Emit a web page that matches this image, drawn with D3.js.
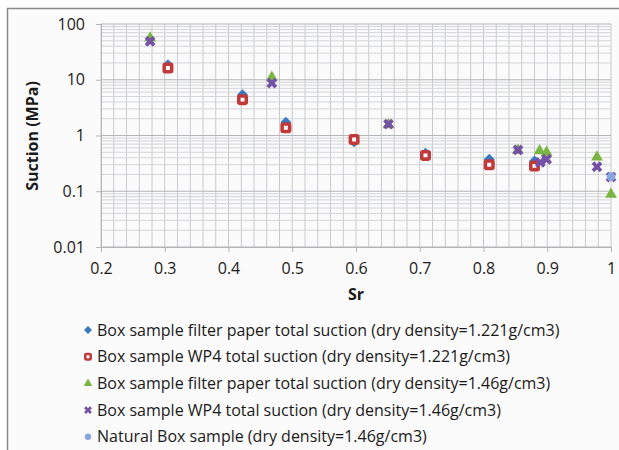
<!DOCTYPE html>
<html>
<head>
<meta charset="utf-8">
<script src="https://cdn.jsdelivr.net/npm/d3@7"></script>
<style>
  body { margin: 0; background: #fff; }
  text { font-family: "Open Sans", sans-serif; fill: #1a1a1a; }
</style>
</head>
<body>
<svg id="chart" width="619" height="450"></svg>
<script>
// Suction vs degree of saturation (Sr)

// Box sample filter paper total suction (dry density=1.221g/cm3)
var fp1221Sr   = [0.305, 0.422, 0.490, 0.597, 0.709, 0.809, 0.880];
var fp1221Suc  = [18.5, 5.4, 1.72, 0.77, 0.48, 0.375, 0.35];
// Box sample WP4 total suction (dry density=1.221g/cm3)
var wp1221Sr   = [0.305, 0.422, 0.490, 0.597, 0.709, 0.809, 0.880];
var wp1221Suc  = [16.3, 4.4, 1.38, 0.85, 0.44, 0.30, 0.285];
// Box sample filter paper total suction (dry density=1.46g/cm3)
var fp146Sr    = [0.277, 0.468, 0.651, 0.854, 0.888, 0.899, 0.978, 1.0];
var fp146Suc   = [56, 11, 1.55, 0.54, 0.53, 0.50, 0.41, 0.088];
// Box sample WP4 total suction (dry density=1.46g/cm3)
var wp146Sr    = [0.277, 0.468, 0.651, 0.854, 0.889, 0.899, 0.978, 1.0];
var wp146Suc   = [49, 8.7, 1.6, 0.55, 0.33, 0.375, 0.275, 0.18];
// Natural Box sample (dry density=1.46g/cm3)
var natSr      = [1.0];
var natSuc     = [0.182];

var xTicks = [0.2, 0.3, 0.4, 0.5, 0.6, 0.7, 0.8, 0.9, 1];
var yTicks = [0.01, 0.1, 1, 10, 100];
var legendLabels = [
  "Box sample filter paper total suction (dry density=1.221g/cm3)",
  "Box sample WP4 total suction (dry density=1.221g/cm3)",
  "Box sample filter paper total suction (dry density=1.46g/cm3)",
  "Box sample WP4 total suction (dry density=1.46g/cm3)",
  "Natural Box sample (dry density=1.46g/cm3)"
];

var series = [
  { sr: fp1221Sr, suc: fp1221Suc, shape: "diamond", color: "#3a78c3" },
  { sr: wp1221Sr, suc: wp1221Suc, shape: "square",  color: "#c0393b" },
  { sr: fp146Sr,  suc: fp146Suc,  shape: "triangle", color: "#7ab443" },
  { sr: wp146Sr,  suc: wp146Suc,  shape: "cross",   color: "#7451a6" },
  { sr: natSr,    suc: natSuc,    shape: "circle",  color: "#86a8dc" }
];

var svg = d3.select("#chart");

// outer frame
svg.append("rect").attr("x", 0).attr("y", 0).attr("width", 619).attr("height", 450).attr("fill", "#fff");
svg.append("rect").attr("x", 7.5).attr("y", 8.5).attr("width", 640).attr("height", 480)
  .attr("fill", "#fcfbfb").attr("stroke", "#8a8a8a").attr("stroke-width", 1.5);

var x = d3.scaleLinear().domain([0.2, 1]).range([101, 611]);
var y = d3.scaleLog().domain([0.01, 100]).range([247, 24]);

var grid = svg.append("g");

// vertical gridlines every 0.02
d3.range(0, 41).forEach(function (i) {
  var v = 0.2 + i * 0.02;
  grid.append("line")
    .attr("x1", x(v)).attr("x2", x(v)).attr("y1", 24).attr("y2", 247)
    .attr("stroke", "#c8cacd").attr("stroke-width", 1);
});

// horizontal minor gridlines
yTicks.slice(0, -1).forEach(function (d) {
  for (var k = 2; k <= 9; k++) {
    grid.append("line")
      .attr("x1", 101).attr("x2", 611).attr("y1", y(d * k)).attr("y2", y(d * k))
      .attr("stroke", "#d3d5d8").attr("stroke-width", 1);
  }
});
// horizontal major gridlines
yTicks.forEach(function (d) {
  grid.append("line")
    .attr("x1", 101).attr("x2", 611).attr("y1", y(d)).attr("y2", y(d))
    .attr("stroke", "#b3b5b8").attr("stroke-width", 1.2);
});

// axes
var xAxis = d3.axisBottom(x).tickValues(xTicks).tickSize(5).tickPadding(11)
  .tickFormat(function (d) { return d === 1 ? "1" : d3.format(".1f")(d); });
var gx = svg.append("g").attr("transform", "translate(0,247)").call(xAxis);
gx.select(".domain").attr("stroke", "#b3b5b8");
gx.selectAll(".tick line").attr("stroke", "#b3b5b8");
gx.selectAll("text").attr("font-size", 16).attr("fill", "#1a1a1a").style("font-family", "Open Sans");

var yAxis = d3.axisLeft(y).tickValues(yTicks).tickSize(5).tickPadding(11)
  .tickFormat(function (d) { return d >= 1 ? d3.format("d")(d) : String(d); });
var gy = svg.append("g").attr("transform", "translate(101,0)").call(yAxis);
gy.select(".domain").attr("stroke", "#b3b5b8");
gy.selectAll(".tick line").attr("stroke", "#b3b5b8");
gy.selectAll("text").attr("font-size", 16).attr("fill", "#1a1a1a").style("font-family", "Open Sans");

// axis titles
svg.append("text").attr("x", 356).attr("y", 300).attr("text-anchor", "middle")
  .attr("font-size", 16).attr("font-weight", "bold").text("Sr");
svg.append("text").attr("transform", "translate(38,136) rotate(-90)").attr("text-anchor", "middle")
  .attr("font-size", 16).attr("font-weight", "bold").text("Suction (MPa)");

// marker drawing
var drawMarker = function (g, shape, color, cx, cy, s) {
  if (shape === "diamond") {
    g.append("path").attr("transform", "translate(" + cx + "," + cy + ") rotate(45)")
      .attr("d", d3.symbol().type(d3.symbolSquare).size(s * s * 0.5)).attr("fill", color);
  } else if (shape === "square") {
    var sw = s * 0.32;
    g.append("rect").attr("x", cx - s / 2 + sw / 2).attr("y", cy - s / 2 + sw / 2)
      .attr("width", s - sw).attr("height", s - sw).attr("rx", 1)
      .attr("fill", "#fff").attr("stroke", color).attr("stroke-width", sw);
  } else if (shape === "triangle") {
    g.append("path").attr("transform", "translate(" + cx + "," + cy + ")")
      .attr("d", d3.symbol().type(d3.symbolTriangle).size(s * s * 0.5)).attr("fill", color);
  } else if (shape === "cross") {
    g.append("path").attr("transform", "translate(" + cx + "," + cy + ") rotate(45)")
      .attr("d", d3.symbol().type(d3.symbolCross).size(s * s * 0.6)).attr("fill", color);
  } else {
    g.append("circle").attr("cx", cx).attr("cy", cy).attr("r", s * 0.4).attr("fill", color);
  }
};

var marks = svg.append("g");
series.forEach(function (ser) {
  ser.sr.forEach(function (v, i) {
    drawMarker(marks, ser.shape, ser.color, x(v), y(ser.suc[i]), 11);
  });
});

// legend
var legend = svg.append("g");
legendLabels.forEach(function (label, i) {
  var ly = 330 + i * 26.7;
  drawMarker(legend, series[i].shape, series[i].color, 88, ly, 8);
  legend.append("text").attr("x", 97).attr("y", ly + 5.5)
    .attr("font-size", 16).text(label);
});
</script>
</body>
</html>
